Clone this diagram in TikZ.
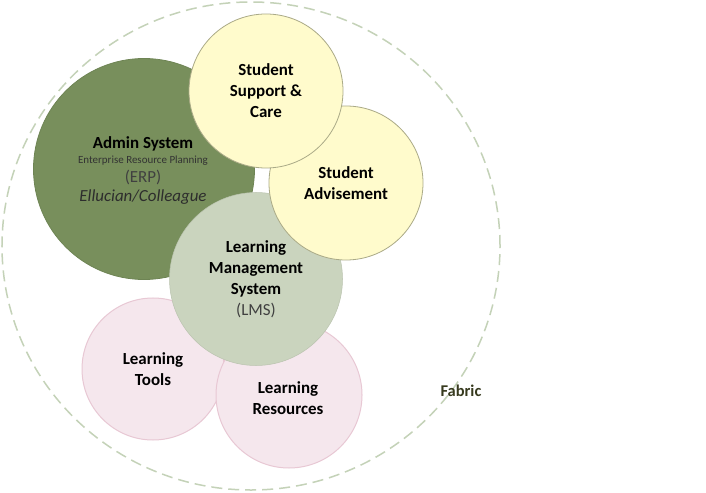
\documentclass[tikz,border=0pt]{standalone}
\usepackage{fontspec}
\setmainfont{Carlito}
\usetikzlibrary{shapes.geometric}
\definecolor{adminfill}{RGB}{120,143,92}
\definecolor{admindraw}{RGB}{110,132,84}
\definecolor{yellowfill}{RGB}{255,251,204}
\definecolor{yellowdraw}{RGB}{170,170,135}
\definecolor{lmsfill}{RGB}{202,212,190}
\definecolor{pinkfill}{RGB}{245,231,237}
\definecolor{pinkdraw}{RGB}{232,200,212}
\definecolor{fabricline}{RGB}{196,210,184}
\definecolor{fabrictext}{RGB}{55,58,30}
\definecolor{subgrey}{RGB}{64,64,64}
\tikzset{
  bubble/.style={circle, inner sep=0pt, align=center, text=black,
    font=\fontsize{17}{21}\selectfont\bfseries},
  yellowbubble/.style={bubble, fill=yellowfill, draw=yellowdraw, line width=0.8bp},
  pinkbubble/.style={bubble, fill=pinkfill, draw=pinkdraw, line width=1bp},
  adminline/.style={anchor=base, inner sep=0pt},
}
\begin{document}
\begin{tikzpicture}[x=1bp,y=-1bp]
\useasboundingbox (0,0) rectangle (706,493);
\fill[white] (0,0) rectangle (706,493);
% Fabric
\node[ellipse, minimum width=498bp, minimum height=488bp, inner sep=0pt,
  draw=fabricline, line width=1.5bp, dash pattern=on 11bp off 6bp] (fabric) at (251,246) {};
\node[font=\fontsize{16.5}{19}\selectfont\bfseries, text=fabrictext] (fabriclabel) at (461,391) {Fabric};
% Learning tools / resources
\node[pinkbubble, minimum size=142bp] (tools) at (153,369) {Learning\\Tools};
\node[pinkbubble, minimum size=146bp] (resources) at (289,395) {};
\node[align=center, inner sep=0pt, font=\fontsize{17}{21}\selectfont\bfseries] (resourceslabel) at (288,398) {Learning\\Resources};
% Admin
\node[bubble, minimum size=221bp, fill=adminfill, draw=admindraw, line width=0.8bp] (admin) at (144,169) {};
\node[adminline, font=\fontsize{17}{20}\selectfont\bfseries] (admin1) at (143,149) {Admin System};
\node[adminline, font=\fontsize{11}{13}\selectfont, text=subgrey!80!black] (admin2) at (143,163.5) {Enterprise Resource Planning};
\node[adminline, font=\fontsize{17}{20}\selectfont, text=subgrey] (admin3) at (143,183) {(ERP)};
\node[adminline, font=\fontsize{17}{20}\selectfont\itshape, text=subgrey!70!black] (admin4) at (143,201.5) {Ellucian/Colleague};
% LMS
\node[bubble, minimum size=173bp, fill=lmsfill, draw=lmsfill!92!black, line width=0.5bp] (lms) at (256,279)
  {Learning\\Management\\System\\{\mdseries\color{subgrey}(LMS)}};
% Student bubbles
\node[yellowbubble, minimum size=154bp] (advise) at (346,183) {Student\\Advisement};
\node[yellowbubble, minimum size=154bp] (support) at (266,91) {Student\\Support \&\\Care};
\end{tikzpicture}
\end{document}
